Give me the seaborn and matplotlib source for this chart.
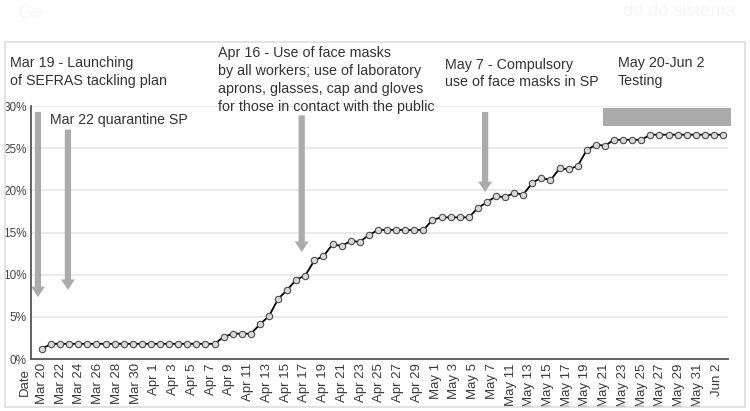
import numpy as np
import pandas as pd
import matplotlib
matplotlib.use('Agg')
import matplotlib.pyplot as plt
import matplotlib.patches as patches
from matplotlib import transforms
import seaborn as sns

# share of positive cases (%), one point per day
pct_positive = [1.2] + [1.8] * 19 + [2.6, 3.0, 3.0, 3.0, 4.1, 5.1, 7.1, 8.2, 9.4, 9.9,
                11.7, 12.2, 13.6, 13.4, 14.0, 13.9, 14.7] + [15.3] * 6 + [16.5] + [16.8] * 4 + \
               [17.9, 18.6, 19.3, 19.2, 19.7, 19.5, 20.9, 21.5, 21.2, 22.6, 22.5, 22.9,
                24.8, 25.4, 25.3] + [26.0] * 4 + [26.6] * 9

tick_labels = ['Mar 20', 'Mar 22', 'Mar 24', 'Mar 26', 'Mar 28', 'Mar 30',
               'Apr 1', 'Apr 3', 'Apr 5', 'Apr 7', 'Apr 9', 'Apr 11', 'Apr 13',
               'Apr 15', 'Apr 17', 'Apr 19', 'Apr 21', 'Apr 23', 'Apr 25', 'Apr 27',
               'Apr 29', 'May 1', 'May 3', 'May 5', 'May 7', 'May 11', 'May 13',
               'May 15', 'May 17', 'May 19', 'May 21', 'May 23', 'May 25', 'May 27',
               'May 29', 'May 31', 'Jun 2']

y_ticks = [0, 5, 10, 15, 20, 25, 30]

events = ['Mar 19 - Launching\nof SEFRAS tackling plan',
          'Apr 16 - Use of face masks\nby all workers; use of laboratory\naprons, glasses, cap and gloves\nfor those in contact with the public',
          'May 7 - Compulsory\nuse of face masks in SP',
          'May 20-Jun 2\nTesting']

df = pd.DataFrame({'dia': np.arange(len(pct_positive)), 'pct': pct_positive})

sns.set_style('white')
plt.rcParams['font.family'] = ['Liberation Sans', 'DejaVu Sans']

fig = plt.figure(figsize=(7.5, 4.11), dpi=100)
ax = fig.add_axes([0.0413, 0.1265, 0.9294, 0.6155])

# marco exterior gris claro
fig.patches.append(patches.Rectangle((5 / 750, 1 - 407 / 411), 740 / 750, 365 / 411,
                                     transform=fig.transFigure, fill=False,
                                     edgecolor='#dedede', lw=1.2))

for y in y_ticks[1:]:
    ax.axhline(y, color='#e4e4e4', lw=1.1, zorder=0)

sns.lineplot(data=df, x='dia', y='pct', ax=ax, color='black', lw=1.3,
             marker='o', markersize=4.6, markerfacecolor='#d9d9d9',
             markeredgecolor='#4a4a4a', markeredgewidth=0.8, zorder=3)

ax.set_xlim(-1.21, 75.55)
ax.set_ylim(0, 30)
ax.set_yticks(y_ticks)
ax.set_yticklabels([f'{v}%' for v in y_ticks], fontsize=8.5, color='#444444')
ax.set_xticks(np.linspace(0, 74.3, len(tick_labels)))
ax.set_xticklabels(tick_labels, rotation=90, fontsize=9.5, color='#3a3a3a')
ax.tick_params(axis='both', length=0, pad=3)
ax.set_xlabel('')
ax.set_ylabel('')
for s in ['top', 'right']:
    ax.spines[s].set_visible(False)
for s in ['left', 'bottom']:
    ax.spines[s].set_color('#555555')
    ax.spines[s].set_linewidth(1.3)

trans = transforms.blended_transform_factory(ax.transData, ax.transAxes)
ax.text(-1.87, -0.035, 'Date', transform=trans, rotation=90, va='top', ha='center',
        fontsize=9.5, color='#3a3a3a')

# flechas de eventos
flecha = dict(arrowstyle='simple,head_length=0.75,head_width=1.0,tail_width=0.45',
              color='#ababab', mutation_scale=10, shrinkA=0, shrinkB=0, lw=0)
for x0, y_top, y_tip in [(-0.44, 29.3, 7.35), (2.86, 27.2, 8.2), (28.6, 28.9, 12.7), (48.8, 29.3, 19.8)]:
    ax.annotate('', xy=(x0, y_tip), xytext=(x0, y_top), arrowprops=flecha, zorder=2)

ax.add_patch(patches.Rectangle((61.8, 27.6), 14.1, 2.2, facecolor='#ababab',
                               edgecolor='none', clip_on=False, zorder=2))

ax.text(0.9, 28.3, 'Mar 22 quarantine SP', fontsize=10.2, color='#333333', va='center')

txt = dict(fontsize=10.3, color='#333333', va='top', ha='left', linespacing=1.34,
           transform=fig.transFigure)
fig.text(10 / 750, 1 - 56.5 / 411, events[0], **txt)
fig.text(218 / 750, 1 - 46.5 / 411, events[1], **txt)
fig.text(445 / 750, 1 - 57.5 / 411, events[2], **txt)
fig.text(618 / 750, 1 - 56.5 / 411, events[3], **txt)

# texto desvaido que se transparenta arriba
fig.text(18 / 750, 1 - 14 / 411, 'Ge', fontsize=13, color='#f5f5f5', va='center')
fig.text(735 / 750, 1 - 12 / 411, 'do do sistema', fontsize=13, color='#f5f5f5',
         va='center', ha='right')

fig.savefig('out.png', dpi=100)
